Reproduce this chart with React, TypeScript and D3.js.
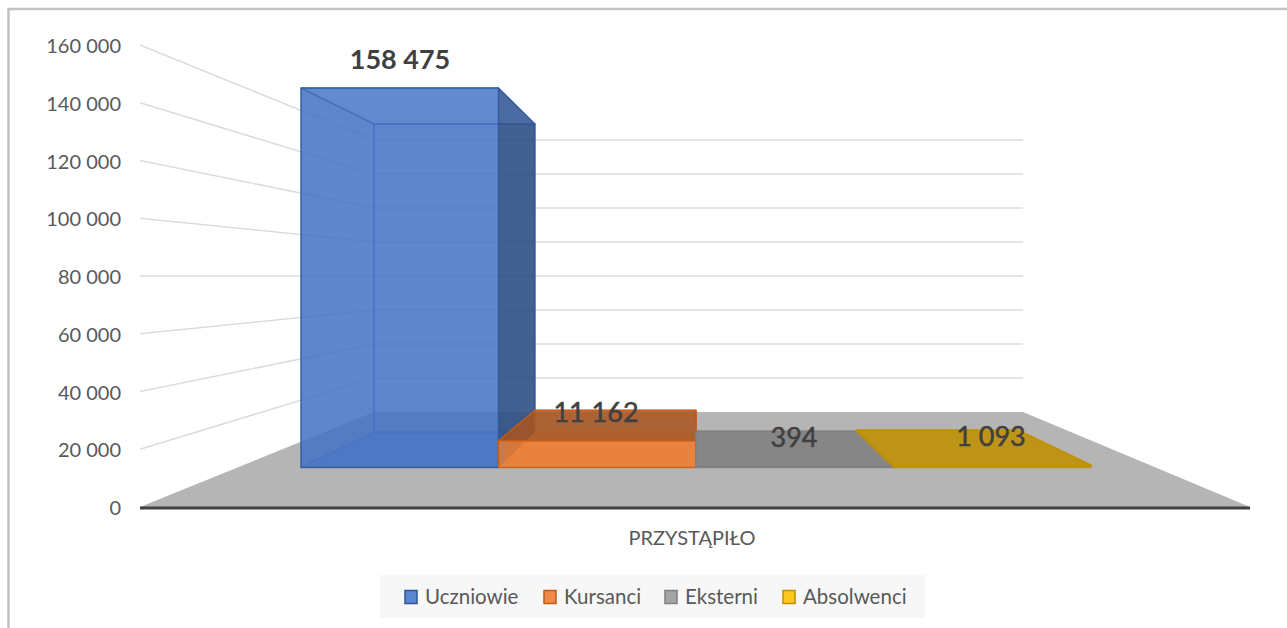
import * as d3 from 'd3'

const seriesNames = ['Uczniowie', 'Kursanci', 'Eksterni', 'Absolwenci']
const seriesValues = [158475, 11162, 394, 1093]
const valueLabels = ['158 475', '11 162', '394', '1 093']
const yTicks = [0, 20000, 40000, 60000, 80000, 100000, 120000, 140000, 160000]
const category = 'PRZYSTĄPIŁO'

const faceColors = [
  { face: '#4472c4', edge: '#2f5597', side: '#2f4f80', top: '#4472c4', topOp: 0.32 },
  { face: '#ed7d31', edge: '#c55a11', side: '#a5501a', top: '#a04f1c', topOp: 0.75 },
  { face: '#7f7f7f', edge: '#7f7f7f', side: '#666666', top: '#858585', topOp: 0.95 },
  { face: '#bf9000', edge: '#c29200', side: '#a67c00', top: '#be9414', topOp: 0.95 },
]
const legendFill = ['#5b86d3', '#ee8a4a', '#a5a5a5', '#ffc61f']
const legendEdge = ['#2f5597', '#c55a11', '#7f7f7f', '#bf9000']

const W = 1287
const H = 628
const FONT = 'Lato, "Open Sans", sans-serif'

// walls: front plane (axis) and back plane
const yFront = d3.scaleLinear().domain([0, 160000]).range([507, 45])
const yBack = d3.scaleLinear().domain([0, 160000]).range([412, 140])
// the bars stand on their own two planes inside the floor
const yBarFront = d3.scaleLinear().domain([0, 158475]).range([467.5, 88])
const yBarBack = d3.scaleLinear().domain([0, 158475]).range([432, 124])
const xBarFront = d3.scaleBand<number>().domain(d3.range(seriesValues.length)).range([301, 1091])
const xBarBack = d3.scaleBand<number>().domain(d3.range(seriesValues.length)).range([374, 1018])

const poly = (pts: [number, number][]) => d3.line()(pts) + 'Z'

export default function App() {
  const backLeft = 374
  const backRight = 1023
  const frontLeft = 140
  const frontRight = 1250
  const legendX = [405, 544, 665, 783]

  return (
    <svg width={W} height={H} style={{ position: 'absolute', left: 0, top: 0, fontFamily: FONT }}>
      <rect width={W} height={H} fill="#fff" />
      <path d={`M8.5,${H}V9H${W}`} fill="none" stroke="#c2c2c2" strokeWidth={2.5} />

      {/* wall gridlines */}
      {yTicks.slice(1).map(t => (
        <path
          key={t}
          d={d3.line()([[frontLeft, yFront(t)], [backLeft, yBack(t)], [backRight, yBack(t)]])!}
          fill="none"
          stroke="#dcdcdc"
          strokeWidth={1.6}
        />
      ))}

      {/* floor */}
      <path
        d={poly([[frontLeft, yFront(0)], [backLeft, yBack(0)], [backRight, yBack(0)], [frontRight, yFront(0)]])}
        fill="#b5b5b5"
      />
      <line x1={frontLeft} x2={frontRight} y1={508} y2={508} stroke="#404040" strokeWidth={3} />

      {/* bars, back faces first so the transparent front lets them through */}
      {seriesValues.map((v, i) => {
        const c = faceColors[i]
        const fl = xBarFront(i)!, fr = fl + xBarFront.bandwidth()
        const bl = xBarBack(i)!, br = bl + xBarBack.bandwidth()
        const f0 = yBarFront(0), f1 = yBarFront(v)
        const b0 = yBarBack(0), b1 = yBarBack(v)
        const faces: { pts: [number, number][]; fill: string; op: number; stroke: string; sw: number }[] = [
          // back, floor, left, right, top, front
          { pts: [[bl, b0], [br, b0], [br, b1], [bl, b1]], fill: c.face, op: 0.42, stroke: c.face, sw: 1.5 },
          { pts: [[fl, f0], [bl, b0], [br, b0], [fr, f0]], fill: c.face, op: 0.62, stroke: c.face, sw: 1 },
          { pts: [[fl, f0], [fl, f1], [bl, b1], [bl, b0]], fill: c.face, op: 0.42, stroke: c.face, sw: 1 },
          { pts: [[fr, f0], [fr, f1], [br, b1], [br, b0]], fill: c.side, op: 0.85, stroke: c.edge, sw: 1 },
          { pts: [[fl, f1], [fr, f1], [br, b1], [bl, b1]], fill: c.top, op: c.topOp, stroke: c.edge, sw: 1.5 },
          { pts: [[fl, f0], [fr, f0], [fr, f1], [fl, f1]], fill: c.face, op: 0.76, stroke: c.edge, sw: 1.5 },
        ]
        return (
          <g key={seriesNames[i]}>
            {faces.map((f, k) => (
              <path
                key={k}
                d={poly(f.pts)}
                fill={f.fill}
                fillOpacity={f.op}
                stroke={f.stroke}
                strokeOpacity={0.75}
                strokeWidth={f.sw}
                strokeLinejoin="round"
              />
            ))}
          </g>
        )
      })}

      {/* axis labels */}
      {yTicks.map(t => (
        <text key={t} x={121} y={yFront(t) + 1} dy="0.35em" textAnchor="end" fontSize={20} fill="#595959">
          {d3.format(',')(t).replace(/,/g, ' ')}
        </text>
      ))}
      <text x={692} y={538} dy="0.35em" textAnchor="middle" fontSize={20} fill="#595959">{category}</text>

      {/* value labels */}
      <text x={400} y={60} dy="0.35em" textAnchor="middle" fontSize={27} fontWeight={700} fill="#404040">{valueLabels[0]}</text>
      <text x={596} y={413} dy="0.35em" textAnchor="middle" fontSize={27} fill="#404040" stroke="#404040" strokeWidth={0.5}>{valueLabels[1]}</text>
      <text x={794} y={438} dy="0.35em" textAnchor="middle" fontSize={27} fill="#404040" stroke="#404040" strokeWidth={0.5}>{valueLabels[2]}</text>
      <text x={991} y={437} dy="0.35em" textAnchor="middle" fontSize={27} fill="#404040" stroke="#404040" strokeWidth={0.5}>{valueLabels[3]}</text>

      {/* legend */}
      <rect x={380} y={575} width={545} height={43} fill="#f7f7f7" />
      {seriesNames.map((name, i) => (
        <g key={name}>
          <rect x={legendX[i]} y={590.5} width={12} height={13} fill={legendFill[i]} stroke={legendEdge[i]} strokeWidth={1.5} />
          <text x={legendX[i] + 20} y={597} dy="0.35em" fontSize={20.5} fill="#595959">{name}</text>
        </g>
      ))}
    </svg>
  )
}
